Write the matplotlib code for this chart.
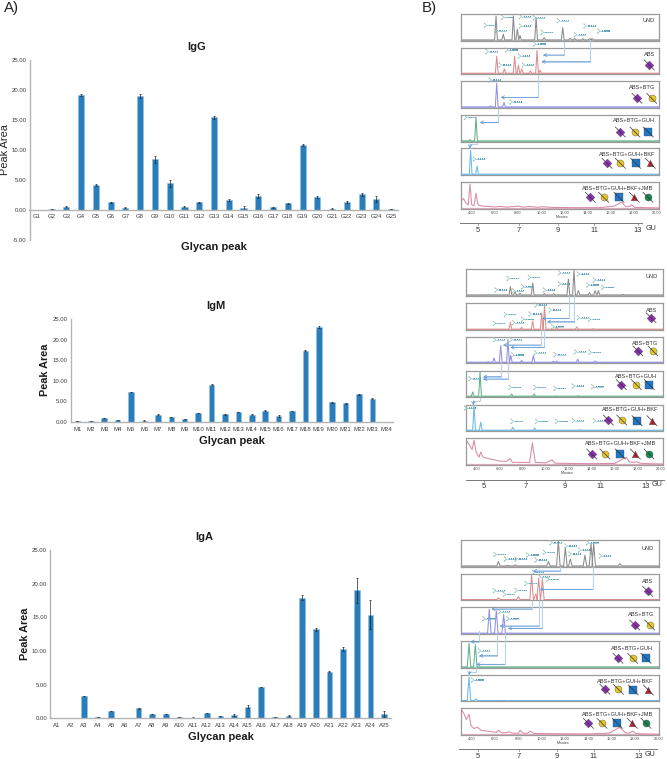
import matplotlib
matplotlib.use("Agg")
import matplotlib.pyplot as plt
import numpy as np

plt.rcParams['font.family'] = ['Liberation Sans', 'DejaVu Sans']
W, H = 667, 759

# ---------- bar data ----------
igg_labels = [f"G{i}" for i in range(1, 26)]
igg_values = [0, .03, .5, 19.2, 4.1, 1.2, .3, 19.0, 8.4, 4.4, .5, 1.2, 15.4, 1.6, .3, 2.3, .35, 1.05, 10.8, 2.15, .15, 1.3, 2.6, 1.8, .03]
igg_errors = [0, 0, .05, .2, .1, .05, .05, .3, .6, .6, .05, .05, .25, .1, .3, .3, .05, .05, .12, .15, .05, .2, .25, .45, 0]
igm_labels = [f"M{i}" for i in range(1, 25)]
igm_values = [.15, .15, .9, .45, 7.25, .35, 1.8, 1.25, .7, 2.2, 9.05, 1.85, 2.4, 1.8, 2.75, 1.4, 2.7, 17.3, 23.0, 4.75, 4.5, 6.75, 5.7, .03]
igm_errors = [.02, .02, .05, .03, .05, .03, .1, .03, .03, .05, .1, .05, .05, .05, .15, .3, .05, .1, .2, .08, .15, .08, .1, 0]
iga_labels = [f"A{i}" for i in range(1, 26)]
iga_values = [0, .03, 3.3, .2, 1.1, .03, 1.5, .65, .65, .15, .1, .75, .35, .5, 1.75, 4.65, .15, .35, 17.9, 13.2, 6.95, 10.3, 19.0, 15.4, .65]
iga_errors = [0, 0, .05, .03, .05, 0, .1, .06, .05, .03, .03, .03, .05, .15, .2, .05, .03, .08, .35, .2, .1, .3, 1.9, 2.1, .4]

# ---------- chromatogram data: (minutes, relative height) ----------
g1_und = [(6.10,.95),(6.73,.25),(7.60,.95),(7.94,.45),(8.17,.2),(9.56,.9),(10.25,.12),(11.86,.5),(12.5,.1),(12.9,.08),(13.6,.08),(14.2,.08),(14.4,.08)]
g1_abs = [(6.16,.7),(6.82,.2),(7.71,.7),(8.03,.35),(8.32,.2),(9.07,.12),(9.64,.93),(9.9,.15)]
g1_btg = [(5.61,.07),(6.16,.95),(6.79,.2)]
g1_guh = [(3.86,.08),(4.37,.95)]
g1_bkf = [(3.91,.95),(4.46,.35)]
g1_jmb_t = [3.1,3.3,3.5,3.7,3.86,4.0,4.2,4.37,4.55,5,6,6.5,7,8,8.5,9,9.7,10,11,13,15,16.3,16.95,17.3,17.6,17.8,18.1,19,20.2]
g1_jmb_h = [.3,.4,.22,.15,.95,.15,.12,.6,.14,.1,.07,.09,.06,.1,.06,.09,.05,.08,.05,.04,.04,.1,.25,.08,.08,.15,.05,.04,.03]
g2_und = [(5.0,.04),(6.93,.35),(7.33,.15),(7.77,.1),(8.87,.5),(9.9,.08),(10.7,.08),(11.97,.65),(12.46,1.0),(12.84,.2),(13.8,.12),(14.3,.2),(14.58,.2),(16.75,.05)]
g2_abs = [(6.93,.3),(7.9,.1),(8.87,.35),(9.65,.65),(9.9,.95),(10.95,.1),(12.7,.12),(14.15,.05)]
g2_btg = [(5.0,.05),(5.5,.2),(6.09,.7),(6.72,.95),(6.96,.3),(7.9,.1),(8.93,.3),(10.67,.07),(10.96,.07),(12.78,.15),(14.3,.08)]
g2_guh = [(3.65,.2),(4.29,1.0),(7.04,.12),(8.99,.12),(10.96,.04),(12.84,.05)]
g2_bkf = [(3.77,1.0),(4.35,.35),(7.13,.15),(9.04,.12),(12.93,.05)]
g2_jmb_t = [3.1,3.4,3.6,3.77,3.95,4.2,4.35,4.55,5,6,6.6,6.9,7.1,8,8.6,8.84,9.1,10,10.55,10.8,12,14,16,16.6,17.0,17.3,17.6,17.9,18.2,19,20.6]
g2_jmb_h = [.95,.75,.6,.95,.5,.3,.5,.3,.25,.15,.14,.25,.1,.1,.1,.85,.1,.08,.2,.07,.06,.05,.06,.2,.3,.12,.1,.12,.07,.05,.03]
g3_und = [(6.29,.2),(7.09,.05),(7.74,.07),(10.57,.2),(11.43,1.0),(12.03,.75),(12.46,.3),(13.71,.45),(14.23,.9),(14.46,.9),(16.7,.12)]
g3_abs = [(6.31,.1),(8.0,.15),(9.14,1.0),(9.49,.25),(9.74,.85),(10.06,.85)]
g3_btg = [(5.51,.95),(6.11,.9),(6.74,.75)]
g3_guh = [(3.77,.95),(4.31,.9),(7.06,.03)]
g3_bkf = [(3.77,.95),(4.37,.1),(7.14,.02)]
g3_jmb_t = [3.1,3.3,3.55,3.77,3.95,4.2,4.5,4.8,5.5,6.1,6.3,6.6,7,7.2,7.5,8,8.15,8.4,8.8,9.05,9.3,11,14,15.8,16.7,17.2,17.5,17.8,18.1,19,20.2]
g3_jmb_h = [1.0,.85,.6,.8,.35,.25,.3,.18,.14,.1,.18,.08,.1,.12,.07,.07,.18,.07,.07,.15,.06,.05,.04,.07,.3,.08,.07,.15,.05,.04,.03]

colors = ['#8a8a8a', '#dc8e8e', '#9090e4', '#62b088', '#66bcee', '#d98aa4']
names = ['UND', 'ABS', 'ABS+BTG', 'ABS+BTG+GUH', 'ABS+BTG+GUH+BKF', 'ABS+BTG+GUH+BKF+JMB']

fig = plt.figure(figsize=(W/100, H/100), dpi=100, facecolor='white')

def px_axes(x0, y0, x1, y1, **kw):
    return fig.add_axes([x0/W, 1-y1/H, (x1-x0)/W, (y1-y0)/H], **kw)

BAR = '#2b7dba'
def bars(box, labels, values, errors, ylim, ypad, rng):
    ax = px_axes(*box)
    xs = np.arange(len(labels))
    ax.bar(xs, values, width=.41, color=BAR, edgecolor='#8cc3e8', linewidth=.4,
           yerr=errors, ecolor='#222222', error_kw=dict(lw=.5, capsize=1, capthick=.5))
    ax.set_xlim(-.5, len(labels)-.5)
    ax.set_ylim(*ylim)
    ax.set_xticks(xs, labels)
    ax.set_yticks(rng, [f"{v:.2f}" for v in rng])
    ax.tick_params(length=0, labelsize=4.3, labelcolor='#3c3c3c')
    ax.tick_params(axis='x', pad=ypad)
    ax.tick_params(axis='y', pad=2)
    for s in ('top', 'right'):
        ax.spines[s].set_visible(False)
    ax.spines['bottom'].set_position(('data', 0))
    ax.spines['bottom'].set_color('#b4b4b4')
    ax.spines['left'].set_color('#b4b4b4')
    ax.spines['bottom'].set_linewidth(1)
    ax.spines['left'].set_linewidth(1)
    ax.patch.set_alpha(0)

bars((29.5, 60, 398.5, 239.5), igg_labels, igg_values, igg_errors, (-5, 25), 3, [-5, 0, 5, 10, 15, 20, 25])
bars((70.7, 319, 392.6, 422), igm_labels, igm_values, igm_errors, (0, 25), 3.4, [0, 5, 10, 15, 20, 25])
bars((49.9, 550, 390.8, 718.3), iga_labels, iga_values, iga_errors, (0, 25), 3.2, [0, 5, 10, 15, 20, 25])

# ---------- chromatogram panels ----------
def trace(peaks, w):
    t, h = [], []
    for p, v in peaks:
        t += [p-w, p, p+w]
        h += [.03, v, .03]
    return t, h

groups = [
 dict(x=(461, 659), ys=[(13.7,40.7),(47.7,74),(81,107.7),(115,141.7),(148,175),(182,208.7)],
      t4=471.7, t20=657, tr=[g1_und,g1_abs,g1_btg,g1_guh,g1_bkf,(g1_jmb_t,g1_jmb_h)], w=.12),
 dict(x=(465.7, 663), ys=[(269,295.7),(303,330),(337,363),(371,397),(404.7,431),(438,465)],
      t4=476.7, t20=660.7, tr=[g2_und,g2_abs,g2_btg,g2_guh,g2_bkf,(g2_jmb_t,g2_jmb_h)], w=.12),
 dict(x=(460.7, 659.3), ys=[(540,566.7),(573.7,600.3),(607,634),(641,667.7),(674.7,701.3),(708,735)],
      t4=471.7, t20=658.3, tr=[g3_und,g3_abs,g3_btg,g3_guh,g3_bkf,(g3_jmb_t,g3_jmb_h)], w=.15),
]
for gi, g in enumerate(groups):
    rate = (g['t20']-g['t4'])/16
    xl = (4+(g['x'][0]-g['t4'])/rate, 4+(g['x'][1]-g['t4'])/rate)
    for k, (y0, y1) in enumerate(g['ys']):
        ax = px_axes(g['x'][0], y0, g['x'][1], y1)
        if k < 5:
            t, h = trace(g['tr'][k], g['w'])
            t = [xl[0]] + t + [xl[1]]
            h = [.03] + h + [.03]
        else:
            t, h = g['tr'][k]
        ax.plot(t, h, color=colors[k], lw=.75)
        ax.axhline(.03, color=colors[k], lw=.9 if k else .6, alpha=.7)
        ax.set_xlim(*xl)
        ax.set_ylim(0, 1.04)
        ax.set_yticks([])
        for s in ax.spines.values():
            s.set_color('#9a9a9a')
            s.set_linewidth(.9)
        ax.patch.set_alpha(0)
        if k == 5:
            ax.set_xticks(np.arange(4, 21, 2), [f"{v:.2f}" for v in np.arange(4, 21, 2)])
            ax.tick_params(axis='x', length=1, width=.3, labelsize=2.8, pad=.5, labelcolor='#444444', color='#777777')
        else:
            ax.set_xticks([])

# ---------- overlay in pixels ----------
ov = fig.add_axes([0, 0, 1, 1], zorder=20)
ov.set_xlim(0, W); ov.set_ylim(H, 0); ov.axis('off'); ov.patch.set_alpha(0)

def T(x, y, s, **kw):
    kw.setdefault('ha', 'center'); kw.setdefault('va', 'center')
    ov.text(x, y, s, **kw)

T(12, 8, 'A)', fontsize=10.8, color='#222222')
T(429, 8, 'B)', fontsize=10.8, color='#222222')
for x, y, s in [(197, 47, 'IgG'), (215.7, 306, 'IgM'), (204, 537, 'IgA'),
                (214, 247, 'Glycan peak'), (232, 441, 'Glycan peak'), (221, 737, 'Glycan peak')]:
    T(x, y, s, fontsize=8, fontweight='bold', color='#1c1c1c')
T(5, 150, 'Peak Area', fontsize=7.9, rotation=90, color='#262626')
T(45, 370, 'Peak Area', fontsize=7.8, fontweight='bold', rotation=90, color='#1c1c1c')
T(25, 634, 'Peak Area', fontsize=7.8, fontweight='bold', rotation=90, color='#1c1c1c')

# zoom coordinates from three crops: origin (420,0), (420,270), (420,510), factor 3
origins = [0, 270, 510]
glyphs = [
 [(208,76),(260,52),(240,92),(313,50),(313,78),(355,53),(378,97),(427,62),(478,104),(507,78),(548,93),
  (213,155),(272,150),(252,195),(310,168),(322,195),(356,132),(222,240),(285,306),(148,352),(175,477)],
 [(240,60),(276,25),(292,62),(320,50),(340,22),(385,60),(430,42),(430,8),(487,12),(515,45),(535,30),(560,52),
  (235,160),(268,133),(292,158),(320,148),(342,132),(360,105),(402,120),(410,170),(487,143),(520,148),
  (235,209),(285,209),(290,255),(358,248),(417,254),(478,245),(522,247),
  (162,326),(282,352),(357,352),(417,355),(472,348),(530,350),
  (148,414),(288,454),(362,454),(422,454),(472,452),(535,452)],
 [(237,133),(268,147),(300,147),(335,135),(360,150),(385,127),(405,98),(450,108),(462,132),(490,120),(515,98),(553,138),
  (235,242),(265,253),(300,241),(330,220),(352,187),(370,200),(395,208),
  (203,326),(250,305),(275,326),(190,422),(170,510)],
]
arrows = [
 [[(432,125),(432,165),(370,165)],[(511,120),(511,185),(365,185)],[(355,225),(355,292),(243,292)],
  [(235,328),(235,367),(180,367)],[(170,428),(170,433),(150,433),(150,445)]],
 [[(447,78),(447,145),(367,145)],[(463,78),(463,155),(382,155)],[(373,180),(373,232),(272,232)],
  [(362,180),(362,225),(250,225)],[(243,280),(243,320),(190,320)],[(265,280),(265,327),(190,327)],
  [(180,385),(180,392),(160,392),(160,405)]],
 [[(420,170),(420,183),(340,183)],[(518,170),(518,238),(360,238)],[(335,272),(335,297),(215,297)],
  [(357,272),(357,348),(240,348)],[(367,272),(367,355),(265,355)],[(178,362),(178,395),(152,395)],
  [(232,372),(232,437),(178,437)],[(254,372),(254,463),(170,463)],[(168,475),(168,485),(148,485),(148,495)]],
]
icons = [
 [(688,195,'abs'),(651,295,'abs'),(695,295,'btg'),(601,396,'abs'),(645,396,'btg'),(685,396,'guh'),
  (561,490,'abs'),(601,490,'btg'),(647,490,'guh'),(691,490,'bkf'),
  (511,592,'abs'),(551,592,'btg'),(597,592,'guh'),(643,592,'bkf'),(684,592,'jmb')],
 [(693,143,'abs'),(654,243,'abs'),(699,243,'btg'),(604,344,'abs'),(649,344,'btg'),(688,344,'guh'),
  (565,450,'abs'),(605,450,'btg'),(651,452,'guh'),(696,452,'bkf'),
  (515,552,'abs'),(555,552,'btg'),(601,552,'guh'),(646,552,'bkf'),(687,552,'jmb')],
 [(683,244,'abs'),(644,345,'abs'),(689,345,'btg'),(594,445,'abs'),(638,445,'btg'),(678,445,'guh'),
  (555,538,'abs'),(595,538,'btg'),(640,540,'guh'),(685,540,'bkf'),
  (505,640,'abs'),(546,640,'btg'),(592,640,'guh'),(637,640,'bkf'),(678,640,'jmb')],
]
name_pos = [
 [(706,62),(706,165),(706,263),(706,362),(706,465),(700,565)],
 [(713,19),(713,120),(715,220),(712,318),(714,419),(708,521)],
 [(701,114),(699,215),(702,315),(699,414),(701,515),(700,612)],
]
icon_style = {'abs': ('D', '#8a2fb0', 20), 'btg': ('o', '#e6c82c', 26), 'guh': ('s', '#1f78c8', 26),
              'bkf': ('^', '#c2202c', 22), 'jmb': ('o', '#178a52', 26)}
# GU axis: line, tick positions, label y, GU-label
gu_axes = [
 dict(y=223, x=(460, 642), ticks=[478, 519, 558, 594, 638], ly=230.7, gu=(650.7, 228.5)),
 dict(y=479.7, x=(465.7, 664), ticks=[484, 526, 564.7, 600, 646], ly=486.7, gu=(656.7, 485)),
 dict(y=749, x=(459, 657), ticks=[478, 518.7, 557, 593.7, 639], ly=756, gu=(650, 755)),
]
gu_labels = ['5', '7', '9', '11', '13']

for gi, oy in enumerate(origins):
    P = lambda X, Y: (420+X/3, oy+Y/3)
    for path in arrows[gi]:
        pts = [P(*p) for p in path]
        xs, ys = zip(*pts)
        ov.plot(xs, ys, color='#b5d3ec', lw=.8, solid_joinstyle='miter')
        ov.annotate('', xy=pts[-1], xytext=pts[-2],
                    arrowprops=dict(arrowstyle='->,head_width=.12,head_length=.2', color='#5b93d0', lw=.5,
                                    shrinkA=0, shrinkB=0))
    for X, Y in glyphs[gi]:
        x, y = P(X, Y)
        ov.plot([x-5, x-2.5, x-5], [y-2, y, y+2], color='#7fbcbc', lw=.45)
        ov.plot([x-2.5, x+6], [y, y], color='#73b8c0', lw=.45)
        ov.scatter([x-5, x-5], [y-2, y+2], s=.7, color=['#d8c878', '#7cc090'], linewidths=0)
        ov.scatter([x, x+2.2, x+4.4, x+6.2], [y, y, y, y], s=.9, marker='s',
                   color=['#5f92d0', '#5f92d0', '#6cb988', '#5f92d0'], linewidths=0)
    for X, Y, kind in icons[gi]:
        x, y = P(X, Y)
        m, c, s = icon_style[kind]
        ov.scatter([x], [y], marker=m, s=s, color=c, edgecolors='#444444', linewidths=.25, zorder=5)
        ov.plot([x-5, x+5], [y-5, y+5], color='#333333', lw=.5, zorder=6)
    for nm, (X, Y) in zip(names, name_pos[gi]):
        x, y = P(X, Y)
        T(x, y, nm, ha='right', fontsize=4.1, color='#333333')
    g = gu_axes[gi]
    ov.plot(g['x'], [g['y']]*2, color='#777777', lw=.7)
    for x, lab in zip(g['ticks'], gu_labels):
        ov.plot([x, x], [g['y'], g['y']+2], color='#777777', lw=.5)
        T(x, g['ly'], lab, fontsize=5.4, color='#333333')
    T(g['gu'][0], g['gu'][1], 'GU', fontsize=5.2, color='#333333')
    T((groups[gi]['t4']+groups[gi]['t20'])/2 - 2, groups[gi]['ys'][5][1]+8.3, 'Minutes', fontsize=2.6, color='#444444')

fig.savefig('out.png', dpi=100)
